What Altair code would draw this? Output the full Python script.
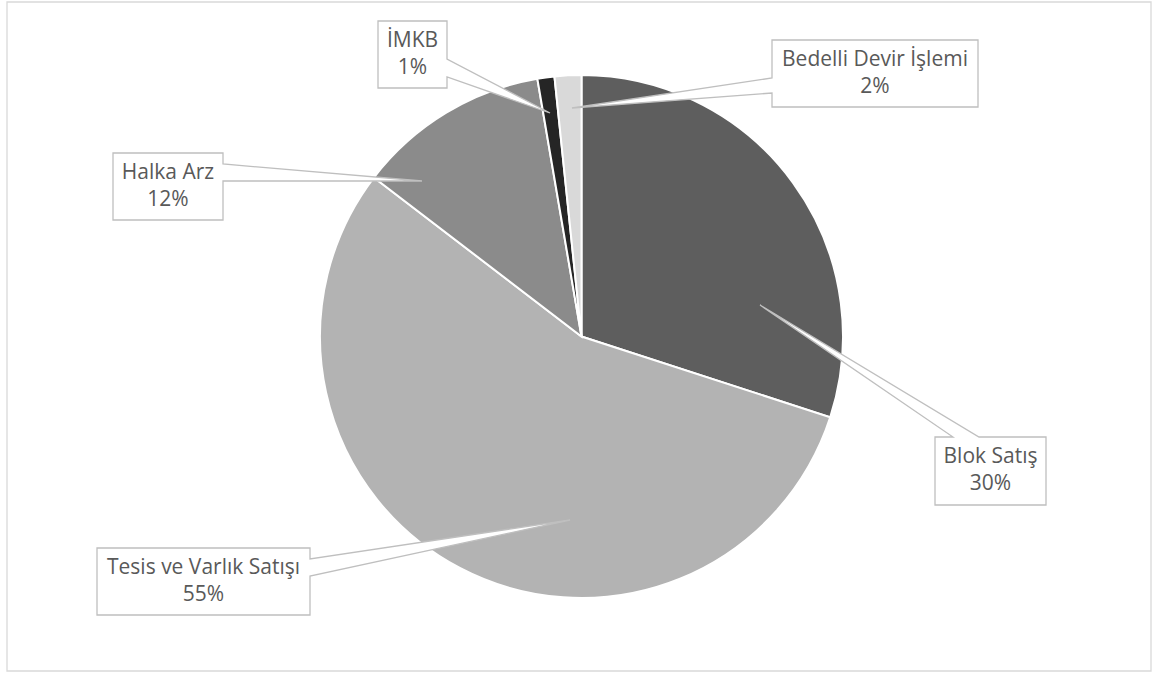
import altair as alt
import pandas as pd

# ---- data ----
names = ["Blok Satış", "Tesis ve Varlık Satışı", "Halka Arz", "İMKB", "Bedelli Devir İşlemi"]
values = [30.0, 55.4, 11.9, 1.05, 1.65]
pct_labels = ["30%", "55%", "12%", "1%", "2%"]
colors = ["#5e5e5e", "#b3b3b3", "#8b8b8b", "#252525", "#d9d9d9"]

# ---- layout (pixel positions of callout boxes and pointer tips) ----
# box: (x0, y0, x1, y1), pointer side, pointer base (a, b), tip (x, y)
callouts = {
    "Blok Satış": ((935, 437, 1046, 505), "top", (953, 979), (760, 305)),
    "Tesis ve Varlık Satışı": ((97, 548, 310, 615), "right", (559, 576), (570, 520)),
    "Halka Arz": ((113, 153, 223, 220), "right", (164, 181), (422, 181)),
    "İMKB": ((378, 21, 447, 88), "right", (59, 77), (550, 113)),
    "Bedelli Devir İşlemi": ((772, 40, 978, 107), "left", (78, 93), (572, 108)),
}
CX, CY, R = 581.5, 336.5, 261.5
W, H = 1152, 675

pie_df = pd.DataFrame({"name": names, "value": values, "idx": list(range(len(names)))})

features = []
text_rows = []
for n, p in zip(names, pct_labels):
    (x0, y0, x1, y1), side, (a, b), (tx, ty) = callouts[n]
    if side == "right":
        ring = [[x0, y0], [x1, y0], [x1, a], [tx, ty], [x1, b], [x1, y1], [x0, y1], [x0, y0]]
    elif side == "left":
        ring = [[x0, y0], [x1, y0], [x1, y1], [x0, y1], [x0, b], [tx, ty], [x0, a], [x0, y0]]
    else:  # top
        ring = [[x0, y0], [a, y0], [tx, ty], [b, y0], [x1, y0], [x1, y1], [x0, y1], [x0, y0]]
    features.append({"type": "Feature", "properties": {"name": n},
                     "geometry": {"type": "Polygon", "coordinates": [ring]}})
    cxm = (x0 + x1) / 2
    text_rows.append({"t": n, "px": cxm, "py": y0 + 19.5})
    text_rows.append({"t": p, "px": cxm, "py": y0 + 47})

text_df = pd.DataFrame(text_rows)

border = alt.Chart(alt.Data(values=[{}])).mark_rect(
    fill="white", stroke="#d9d9d9", strokeWidth=1.3
).encode(x=alt.value(7), x2=alt.value(1151), y=alt.value(2), y2=alt.value(671))

pie = alt.Chart(pie_df).mark_arc(outerRadius=R, stroke="white", strokeWidth=2).encode(
    theta=alt.Theta("value:Q", stack=True),
    color=alt.Color("name:N", scale=alt.Scale(domain=names, range=colors), legend=None),
    order=alt.Order("idx:Q"),
    x=alt.value(CX),
    y=alt.value(CY),
)

boxes = alt.Chart(alt.Data(values=features)).mark_geoshape(
    fill="white", stroke="#bfbfbf", strokeWidth=1.3
).project(type="identity", scale=1, translate=[0, 0], reflectY=False)

texts = alt.Chart(text_df).mark_text(
    font="Open Sans", fontSize=21, color="#595959", baseline="middle", align="center"
).encode(
    x=alt.X("px:Q", scale=None, axis=None),
    y=alt.Y("py:Q", scale=None, axis=None),
    text="t:N",
)

chart = alt.layer(border, pie, boxes, texts).properties(
    width=W, height=H, padding=0, autosize=alt.AutoSizeParams(type="none")
).configure_view(stroke=None)

chart.save("out.html", embed_options={"renderer": "svg", "actions": False})
